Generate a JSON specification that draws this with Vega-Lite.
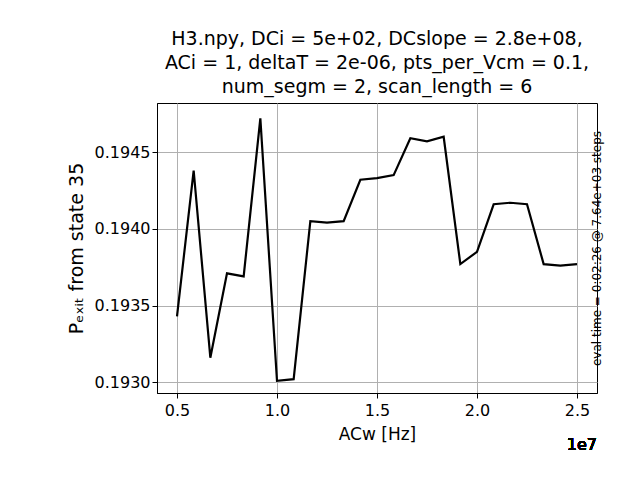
{
  "$schema": "https://vega.github.io/schema/vega-lite/v6.json",
  "autosize": "none",
  "width": 440,
  "height": 290,
  "padding": {"left": 157, "top": 103, "right": 43, "bottom": 87},
  "background": "white",
  "config": {"font": "DejaVu Sans", "view": {"stroke": "black"}},
  "title": {
    "text": ["H3.npy, DCi = 5e+02,  DCslope = 2.8e+08,", "ACi = 1,  deltaT = 2e-06, pts_per_Vcm = 0.1,", "num_segm = 2,  scan_length = 6"],
    "fontSize": 19, "fontWeight": "normal", "anchor": "middle", "offset": 6, "lineHeight": 24
  },
  "data": {"values": [
    {"x": 0.5, "p": 0.19343}, {"x": 0.5833, "p": 0.19438}, {"x": 0.6667, "p": 0.19316},
    {"x": 0.75, "p": 0.19371}, {"x": 0.8333, "p": 0.19369}, {"x": 0.9167, "p": 0.19472},
    {"x": 1.0, "p": 0.19301}, {"x": 1.0833, "p": 0.19302}, {"x": 1.1667, "p": 0.19405},
    {"x": 1.25, "p": 0.19404}, {"x": 1.3333, "p": 0.19405}, {"x": 1.4167, "p": 0.19432},
    {"x": 1.5, "p": 0.19433}, {"x": 1.5833, "p": 0.19435}, {"x": 1.6667, "p": 0.19459},
    {"x": 1.75, "p": 0.19457}, {"x": 1.8333, "p": 0.1946}, {"x": 1.9167, "p": 0.19377},
    {"x": 2.0, "p": 0.19385}, {"x": 2.0833, "p": 0.19416}, {"x": 2.1667, "p": 0.19417},
    {"x": 2.25, "p": 0.19416}, {"x": 2.3333, "p": 0.19377}, {"x": 2.4167, "p": 0.19376},
    {"x": 2.5, "p": 0.19377}
  ]},
  "layer": [
    {
      "mark": {"type": "line", "color": "black", "strokeWidth": 2.2},
      "encoding": {
        "x": {"field": "x", "type": "quantitative", "scale": {"domain": [0.4, 2.6], "nice": false},
          "axis": {"values": [0.5, 1.0, 1.5, 2.0, 2.5], "format": ".1f", "title": "ACw [Hz]", "titleFontSize": 17, "titleFontWeight": "normal", "labelFontSize": 16, "labelColor": "black", "titleColor": "black", "tickColor": "black", "domainColor": "black", "gridColor": "#b0b0b0", "tickSize": 5, "labelPadding": 4, "titlePadding": 8}},
        "y": {"field": "p", "type": "quantitative", "scale": {"domain": [0.19293, 0.19482], "nice": false, "zero": false},
          "axis": {"values": [0.193, 0.1935, 0.194, 0.1945], "format": ".4f", "title": "Pₑₓᵢₜ from state 35", "titleFontSize": 19, "titleFontWeight": "normal", "labelFontSize": 16, "labelColor": "black", "titleColor": "black", "tickColor": "black", "domainColor": "black", "gridColor": "#b0b0b0", "tickSize": 5, "titlePadding": 8}}
      }
    },
    {
      "mark": {"type": "text", "fontSize": 16, "align": "right", "baseline": "top", "dy": 44, "clip": false},
      "encoding": {
        "x": {"datum": 2.6},
        "y": {"datum": 0.19293, "scale": {"domain": [0.19293, 0.19482], "nice": false, "zero": false}, "axis": null},
        "text": {"value": "1e7"}
      }
    },
    {
      "mark": {"type": "point", "opacity": 0},
      "encoding": {
        "y": {"field": "p", "type": "quantitative", "scale": {"zero": false},
          "axis": {"orient": "right", "labels": false, "ticks": false, "domain": false, "grid": false, "title": "eval time = 0:02:26 @ 7.64e+03 steps", "titleFontSize": 12, "titleFontWeight": "normal", "titleAngle": 270, "titleColor": "black", "titlePadding": 6}}
      }
    }
  ],
  "resolve": {"scale": {"y": "independent"}}
}
